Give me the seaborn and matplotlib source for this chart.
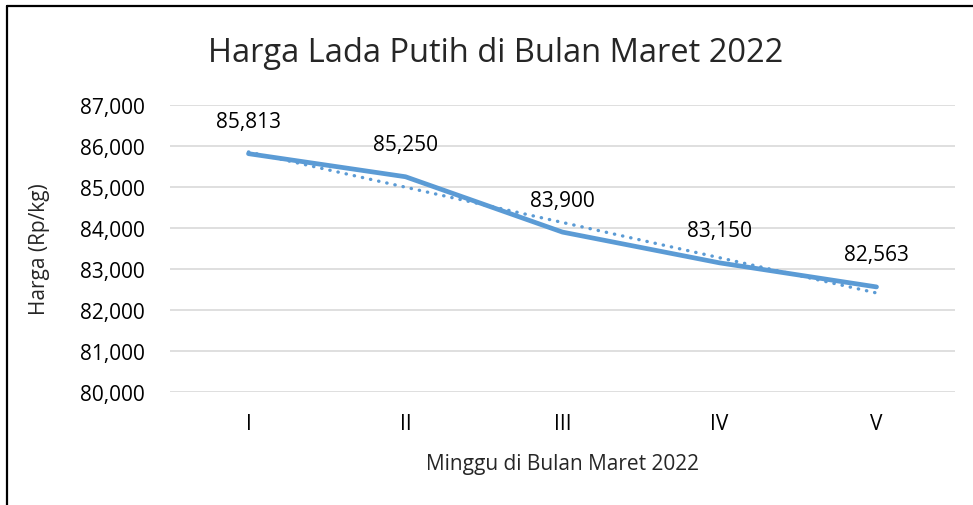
import numpy as np
import pandas as pd
import matplotlib.pyplot as plt
import seaborn as sns
from matplotlib.lines import Line2D

minggu = ["I", "II", "III", "IV", "V"]
harga = [85813, 85250, 83900, 83150, 82563]

sns.set_style("white")
plt.rcParams["font.family"] = ["Open Sans", "DejaVu Sans"]

biru = "#5B9BD5"

df = pd.DataFrame({"pos": np.arange(len(minggu)), "Minggu": minggu, "Harga": harga})

fig = plt.figure(figsize=(9.73, 5.06), dpi=100)
ax = fig.add_axes([170 / 973, 1 - 393 / 506, 785 / 973, 287 / 506])

# garis utama
sns.lineplot(data=df, x="pos", y="Harga", color=biru, linewidth=3.4, ax=ax,
             solid_capstyle="round", solid_joinstyle="round")

# trendline linear (titik-titik)
sns.regplot(data=df, x="pos", y="Harga", scatter=False, ci=None, ax=ax,
            line_kws=dict(color=biru, linewidth=2.4, linestyle=(0, (0.1, 2.4)),
                          dash_capstyle="round"))

# label data
for i, v in enumerate(harga):
    ax.annotate(f"{v:,}", (i, v), xytext=(0, 23), textcoords="offset points",
                ha="center", va="center", fontsize=15, color="#000000")

ax.set_xlim(-0.5, len(minggu) - 0.5)
ax.set_ylim(80000, 87000)
ax.set_yticks(np.arange(80000, 87001, 1000))
ax.set_yticklabels([f"{t:,}" for t in range(80000, 87001, 1000)])
ax.set_xticks(df["pos"])
ax.set_xticklabels(minggu)
ax.tick_params(axis="both", length=0, labelsize=15, colors="#000000")
ax.tick_params(axis="y", pad=18)
ax.tick_params(axis="x", pad=15)
ax.grid(axis="y", color="#D9D9D9", linewidth=1.2)
ax.grid(axis="x", visible=False)
sns.despine(ax=ax, left=True, bottom=True)

ax.set_xlabel("Minggu di Bulan Maret 2022", fontsize=15, labelpad=14)
ax.set_ylabel("Harga (Rp/kg)", fontsize=15, labelpad=22)
fig.text(0.509, 1 - 53 / 506, "Harga Lada Putih di Bulan Maret 2022",
         ha="center", va="center", fontsize=23.5)

# bingkai kiri dan atas
fig.add_artist(Line2D([7 / 973, 7 / 973], [0, 1 - 7 / 506], color="black",
                      linewidth=1.6, transform=fig.transFigure))
fig.add_artist(Line2D([7 / 973, 1], [1 - 7 / 506, 1 - 7 / 506], color="black",
                      linewidth=1.6, transform=fig.transFigure))

fig.savefig("out.png", dpi=100)
